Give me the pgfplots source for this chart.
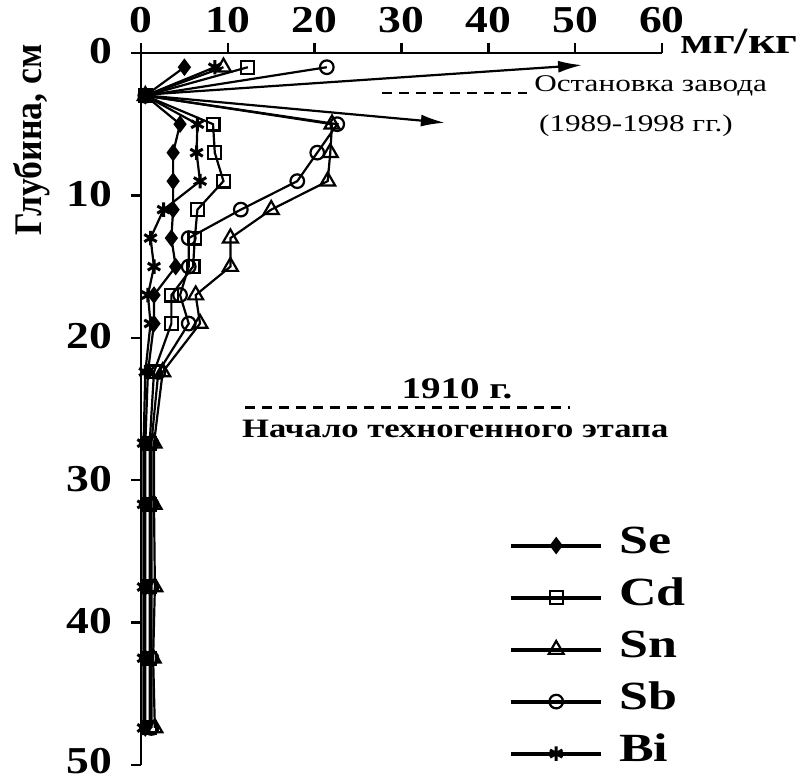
\documentclass[border=0pt]{standalone}
\usepackage{graphicx}
\usepackage{pgfplots}
\pgfplotsset{compat=1.18}
\usepackage{fontspec}
\setmainfont{Liberation Serif}
\usetikzlibrary{plotmarks,arrows.meta}
\newcommand{\sx}[1]{\scalebox{1.3}[1]{#1}}
\newcommand{\sxt}[1]{\scalebox{1.2}[1]{#1}}
\begin{document}
\begin{tikzpicture}
\begin{axis}[
  scale only axis, width=260.5pt, height=356pt,
  xmin=0, xmax=60, ymin=0, ymax=50,
  y dir=reverse,
  axis x line*=top, axis y line*=left,
  axis line style={line width=1.2pt},
  xtick={0,10,20,30,40,50,60}, ytick={0,10,20,30,40,50},
  xticklabels={\sxt{0},\sxt{10},\sxt{20},\sxt{30},\sxt{40},\sxt{50},\sxt{60}},
  yticklabels={\sxt{0},\sxt{10},\sxt{20},\sxt{30},\sxt{40},\raisebox{3pt}{\sxt{50}}},
  tick align=outside, major tick length=5pt,
  tick style={line width=1.2pt,black},
  ticklabel style={font=\fontsize{19}{22}\selectfont\bfseries, inner sep=0pt},
  xticklabel style={anchor=base, yshift=5pt},
  yticklabel style={anchor=east, xshift=-9pt, yshift=0.8pt},
  ylabel={\scalebox{1.05}[1.15]{Глубина, см}},
  ylabel style={font=\fontsize{17}{20}\selectfont\bfseries, at={(axis description cs:-0.21,0.878)}, anchor=center, rotate=0},
  clip=false,
  legend style={draw=none, fill=none, at={(axis description cs:0.706,0.334)}, anchor=north west,
    font=\fontsize{20}{22}\selectfont\bfseries, row sep=8pt, inner sep=0pt,
    nodes={inner sep=0pt, text height=13pt, text depth=5pt},
    /tikz/every odd column/.style={column sep=8pt}},
  legend cell align=left,
  legend image code/.code={\draw[#1,line width=2pt,mark repeat=2,mark phase=2] plot coordinates {(0pt,0pt) (22.5pt,0pt) (45pt,0pt)};},
]
\addplot[black, line width=1.1pt, mark=diamond*, mark size=3.6pt, mark options={solid, fill=black, line width=1pt}] coordinates {
 (5,1) (0.5,3) (4.5,5) (3.7,7) (3.7,9) (3.7,11) (3.5,13) (4,15) (1.5,17) (1.5,19) (0.8,22.4) (0.5,27.4) (0.5,31.7) (0.5,37.5) (0.5,42.5) (0.5,47.4)};
\addlegendentry{\sx{Se}}
\addplot[black, line width=1.1pt, mark=square, mark size=3.2pt, mark options={solid, line width=1.1pt}] coordinates {
 (12.3,1) (0.5,3) (8.3,5) (8.5,7) (9.5,9) (6.5,11) (6.2,13) (6,15) (3.5,17) (3.5,19) (1.5,22.4) (1,27.4) (1,31.7) (1,37.5) (1,42.5) (1,47.4)};
\addlegendentry{\sx{Cd}}
\addplot[black, line width=1.1pt, mark=triangle, mark size=4.3pt, mark options={solid, line width=1.1pt}] coordinates {
 (9.5,1) (0.5,3) (22,5) (21.8,7) (21.5,9) (15,11) (10.3,13) (10.3,15) (6.3,17) (6.8,19) (2.5,22.4) (1.5,27.4) (1.5,31.7) (1.6,37.5) (1.4,42.5) (1.6,47.4)};
\addlegendentry{\sx{Sn}}
\addplot[black, line width=1.1pt, mark=o, mark size=3.4pt, mark options={solid, line width=1.1pt}] coordinates {
 (21.4,1) (0.5,3) (22.6,5) (20.3,7) (18,9) (11.5,11) (5.5,13) (5.5,15) (4.5,17) (5.5,19) (2,22.4) (1.2,27.4) (1.2,31.7) (1.2,37.5) (1.2,42.5) (1.2,47.4)};
\addlegendentry{\sx{Sb}}
\addplot[black, line width=1.1pt, mark=asterisk, mark size=3.6pt, mark options={solid, line width=1.5pt}] coordinates {
 (8.5,1) (0.5,3) (6.5,5) (6.4,7) (6.8,9) (2.6,11) (1.1,13) (1.5,15) (0.8,17) (1.1,19) (0.5,22.4) (0.3,27.4) (0.3,31.7) (0.3,37.5) (0.3,42.5) (0.3,47.4)};
\addlegendentry{\sx{Bi}}
% annotations
\draw[line width=1.1pt, -{Latex[length=12pt,width=6pt]}] (axis cs:0,2.95) -- (axis cs:50.8,0.85);
\draw[line width=1.1pt, -{Latex[length=12pt,width=6pt]}] (axis cs:0,2.95) -- (axis cs:35,4.9);
\draw[line width=1.1pt, dash pattern=on 5pt off 3.5pt] (axis cs:27.8,2.8) -- (axis cs:44.5,2.8);
\node[font=\fontsize{12}{14}\selectfont, anchor=center] at (axis cs:58.7,2.3) {\sx{Остановка завода}};
\node[font=\fontsize{12}{14}\selectfont, anchor=center] at (axis cs:57.0,5.1) {\sx{(1989-1998 гг.)}};
\draw[line width=1.1pt, dash pattern=on 5pt off 3.5pt] (axis cs:12,24.9) -- (axis cs:49.4,24.9);
\node[font=\fontsize{15}{17}\selectfont\bfseries, anchor=center] at (axis cs:36.4,23.6) {\sx{1910 г.}};
\node[font=\fontsize{13.3}{16}\selectfont\bfseries, anchor=center] at (axis cs:36.2,26.4) {\sx{Начало техногенного этапа}};
\node[font=\fontsize{18.5}{22}\selectfont\bfseries, anchor=center] at (axis description cs:1.148,1.016) {\sx{мг/кг}};
\path (axis description cs:-0.2706,-0.0225) rectangle (axis description cs:1.2745,1.0744);
\end{axis}
\end{tikzpicture}
\end{document}
